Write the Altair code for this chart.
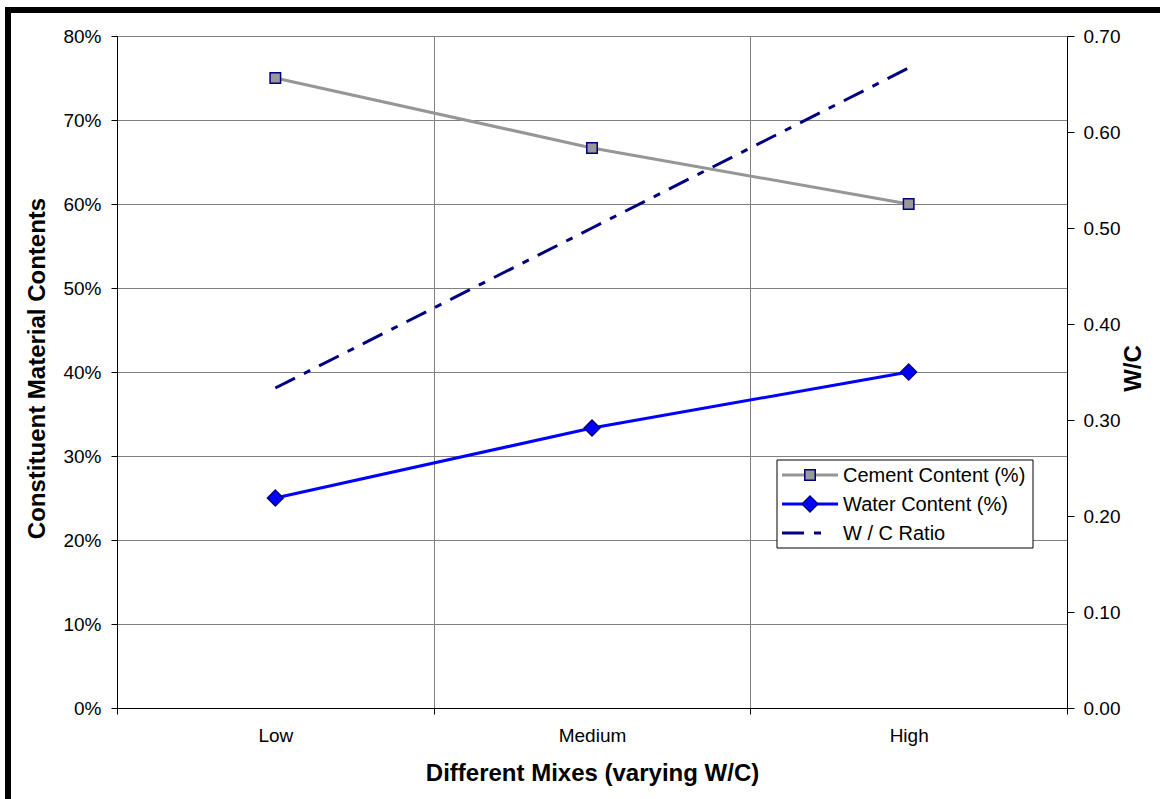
import altair as alt
import pandas as pd

# Mix categories and series values
mixes = ["Low", "Medium", "High"]
cement = [0.75, 0.6667, 0.60]
water = [0.25, 0.3333, 0.40]
wc_ratio = [0.3333, 0.50, 0.6667]

series_names = ["Cement Content (%)", "Water Content (%)", "W / C Ratio"]
line_colors = ["#969696", "#0000FF", "#000080"]
marker_fill = ["#999999", "#0000FF"]
marker_shape = ["square", "diamond"]
marker_size = [110, 250]
marker_edge = "#000080"

left_ticks = [0, 0.1, 0.2, 0.3, 0.4, 0.5, 0.6, 0.7, 0.8]
right_ticks = [0, 0.1, 0.2, 0.3, 0.4, 0.5, 0.6, 0.7]

FONT = "Liberation Sans"
W, H = 950, 672
PAD = {"left": 117, "top": 36, "right": 93, "bottom": 91}

df = pd.DataFrame({"mix": mixes, "cement": cement, "water": water, "wc": wc_ratio})

x_enc = alt.X(
    "mix:N",
    sort=mixes,
    bandPosition=0.5,
    scale=alt.Scale(type="band", paddingInner=0, paddingOuter=0),
    axis=alt.Axis(
        title="Different Mixes (varying W/C)",
        tickBand="extent",
        labelAngle=0,
        grid=True,
        gridColor="#808080",
        tickSize=6,
        labelPadding=12,
        titleX=475,
        titleY=65,
        titleBaseline="middle",
    ),
)

y_left = alt.Y(
    "value:Q",
    scale=alt.Scale(domain=[0, 0.8], nice=False),
    axis=alt.Axis(
        orient="left",
        title="Constituent Material Contents",
        values=left_ticks,
        format=".0%",
        grid=True,
        gridColor="#808080",
        tickSize=6,
        labelPadding=10,
        titleAngle=270,
        titleX=-80,
        titleY=332,
        titleBaseline="middle",
        titleAlign="center",
    ),
)

y_right = alt.Y(
    "wc:Q",
    scale=alt.Scale(domain=[0, 0.7], nice=False),
    axis=alt.Axis(
        orient="right",
        title="W/C",
        values=right_ticks,
        format=".2f",
        grid=False,
        tickSize=7,
        labelPadding=9,
        titleAngle=270,
        titleX=66,
        titleY=332,
        titleBaseline="middle",
        titleAlign="center",
    ),
)

base = alt.Chart(df)
long = base.transform_fold(["cement", "water"], as_=["series", "value"])

left_lines = long.mark_line(strokeWidth=3).encode(
    x=x_enc,
    y=y_left,
    color=alt.Color("series:N", scale=alt.Scale(domain=["cement", "water"], range=line_colors[:2]), legend=None),
)
left_points = long.mark_point(filled=True, stroke=marker_edge, strokeWidth=1.5, opacity=1).encode(
    x=x_enc,
    y=y_left,
    fill=alt.Fill("series:N", scale=alt.Scale(domain=["cement", "water"], range=marker_fill), legend=None),
    shape=alt.Shape("series:N", scale=alt.Scale(domain=["cement", "water"], range=marker_shape), legend=None),
    size=alt.Size("series:N", scale=alt.Scale(domain=["cement", "water"], range=marker_size), legend=None),
)
left = alt.layer(left_lines, left_points)

wc_line = base.mark_line(
    color=line_colors[2], strokeWidth=3, strokeDash=[22, 10, 7, 10], strokeCap="butt"
).encode(x=x_enc, y=y_right)

# Frame bars along the top and left edges of the figure
one = pd.DataFrame({"k": [0]})
frame_left = alt.Chart(one).mark_rule(color="black", strokeWidth=6).encode(
    x=alt.value(-109), y=alt.value(-29), y2=alt.value(H + PAD["bottom"])
)
frame_top = alt.Chart(one).mark_rule(color="black", strokeWidth=6).encode(
    x=alt.value(-112), x2=alt.value(W + PAD["right"]), y=alt.value(-26)
)

# Hand-built legend: box, line samples, markers and labels
lx0, lx1, ly0, ly1 = 660, 916, 424, 512
row_y0, row_step = 439, 29
legend_layers = [
    alt.Chart(one).mark_rect(fill="white", stroke="black", strokeWidth=1).encode(
        x=alt.value(lx0), x2=alt.value(lx1), y=alt.value(ly0), y2=alt.value(ly1)
    )
]
for i, name in enumerate(series_names):
    yy = row_y0 + row_step * i
    if i < 2:
        legend_layers.append(
            alt.Chart(one).mark_rule(color=line_colors[i], strokeWidth=3).encode(
                x=alt.value(lx0 + 5), x2=alt.value(lx0 + 61), y=alt.value(yy)
            )
        )
        legend_layers.append(
            alt.Chart(one).mark_point(
                filled=True, fill=marker_fill[i], stroke=marker_edge, strokeWidth=1.5,
                shape=marker_shape[i], size=marker_size[i], opacity=1,
            ).encode(x=alt.value(lx0 + 33), y=alt.value(yy))
        )
    else:
        legend_layers.append(
            alt.Chart(one).mark_rule(
                color=line_colors[i], strokeWidth=3, strokeDash=[22, 10, 7, 10], strokeCap="butt"
            ).encode(x=alt.value(lx0 + 5), x2=alt.value(lx0 + 46), y=alt.value(yy))
        )
    legend_layers.append(
        alt.Chart(one).mark_text(
            text=name, align="left", baseline="middle", font=FONT, fontSize=20, color="black"
        ).encode(x=alt.value(lx0 + 66), y=alt.value(yy + 1))
    )

chart = (
    alt.layer(left, wc_line, frame_left, frame_top, *legend_layers)
    .resolve_scale(y="independent")
    .properties(width=W, height=H, padding=PAD, autosize="none", background="white")
    .configure_view(stroke=None)
    .configure_axis(
        labelFont=FONT,
        labelFontSize=19,
        labelColor="black",
        titleFont=FONT,
        titleFontSize=24,
        titleFontWeight="bold",
        titleColor="black",
        domainColor="black",
        tickColor="black",
        gridWidth=1,
        domainWidth=1,
    )
)

chart.save("out.html", embed_options={"renderer": "svg", "actions": False})
